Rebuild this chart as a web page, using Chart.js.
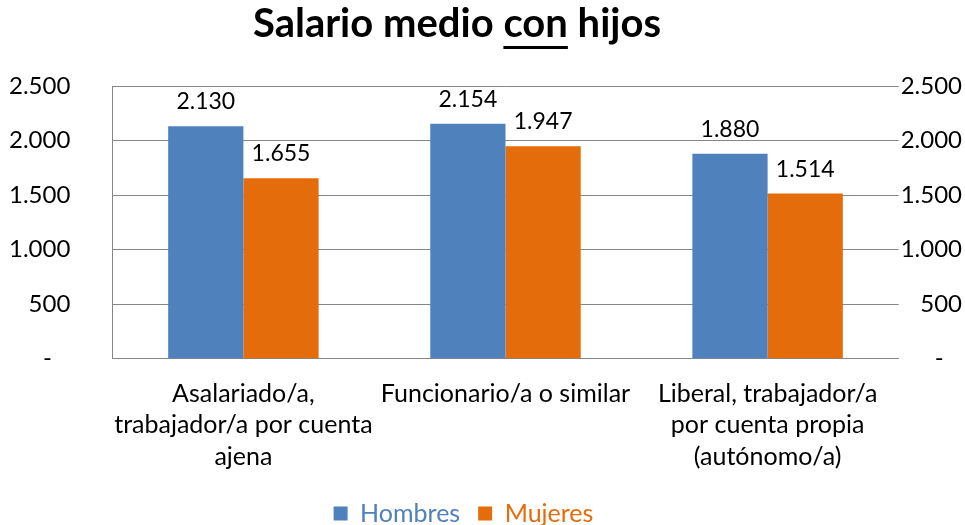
<!DOCTYPE html>
<html>
<head>
<meta charset="utf-8">
<script src="https://cdn.jsdelivr.net/npm/chart.js@4"></script>
<style>
  html, body { margin: 0; padding: 0; background: #fff; }
  #wrap { width: 965px; height: 525px; }
</style>
</head>
<body>
<div id="wrap"><canvas id="myChart"></canvas></div>
<script>
const categories = [
  ["Asalariado/a,", "trabajador/a por cuenta", "ajena"],
  ["Funcionario/a o similar"],
  ["Liberal, trabajador/a", "por cuenta propia", "(autónomo/a)"],
];
const hombres = [2130, 2154, 1880];
const mujeres = [1655, 1947, 1514];
const yTicks = [0, 500, 1000, 1500, 2000, 2500];

const FONT = "Lato";

function formatNumber(v) {
  if (v === 0) return "-   ";
  return String(v).replace(/\B(?=(\d{3})+(?!\d))/g, ".");
}

// title with underlined "con"
const titlePlugin = {
  id: "titleDraw",
  afterDraw(chart) {
    const ctx = chart.ctx;
    const parts = ["Salario medio ", "con", " hijos"];
    ctx.save();
    ctx.font = "bold 40px " + FONT;
    ctx.fillStyle = "#000";
    ctx.textBaseline = "alphabetic";
    const widths = parts.map((p) => ctx.measureText(p).width);
    const total = widths.reduce((a, b) => a + b, 0);
    let x = 457 - total / 2;
    const y = 37;
    parts.forEach((p, i) => {
      ctx.fillText(p, x, y);
      if (p === "con") {
        ctx.fillRect(x, y + 9, widths[i], 3);
      }
      x += widths[i];
    });
    ctx.restore();
  },
};

// value labels above the bars
const valueLabels = {
  id: "valueLabels",
  afterDatasetsDraw(chart) {
    const ctx = chart.ctx;
    ctx.save();
    ctx.font = "23px " + FONT;
    ctx.fillStyle = "#000";
    ctx.textAlign = "center";
    ctx.textBaseline = "alphabetic";
    chart.data.datasets.forEach((ds, i) => {
      chart.getDatasetMeta(i).data.forEach((bar, j) => {
        ctx.fillText(formatNumber(ds.data[j]), bar.x, bar.y - 17);
      });
    });
    ctx.restore();
  },
};

// nudge legend left, like the original
const legendShift = {
  id: "legendShift",
  afterLayout(chart) {
    const lg = chart.legend;
    lg.left -= 22;
    lg.right -= 22;
    lg.top -= 1;
    lg.bottom -= 1;
  },
};

const ctx = document.getElementById("myChart");

new Chart(ctx, {
  type: "bar",
  data: {
    labels: categories,
    datasets: [
      {
        label: "Hombres",
        data: hombres,
        backgroundColor: "#4f81bd",
        yAxisID: "y",
      },
      {
        label: "Mujeres",
        data: mujeres,
        backgroundColor: "#e46c0a",
        yAxisID: "y",
      },
    ],
  },
  options: {
    responsive: true,
    maintainAspectRatio: false,
    animation: false,
    events: [],
    layout: {
      autoPadding: false,
      padding: { top: 86, left: 9, right: 3, bottom: -12 },
    },
    datasets: {
      bar: { categoryPercentage: 0.574, barPercentage: 1 },
    },
    scales: {
      x: {
        afterFit(axis) {
          // long category labels should not squeeze the plot area
          axis.paddingLeft = 0;
          axis.paddingRight = 0;
        },
        grid: { display: false },
        border: { display: true, color: "#868686", width: 1 },
        ticks: {
          color: "#000",
          font: { family: FONT, size: 25, lineHeight: 1.27 },
          padding: 11,
          maxRotation: 0,
          autoSkip: false,
        },
      },
      y: {
        position: "left",
        min: 0,
        max: 2500,
        afterBuildTicks(axis) {
          axis.ticks = yTicks.map((v) => ({ value: v }));
        },
        afterFit(axis) {
          axis.width -= axis.options.ticks.padding;
        },
        grid: { color: "#868686", drawTicks: false },
        border: { display: true, color: "#868686" },
        ticks: {
          color: "#000",
          font: { family: FONT, size: 24 },
          padding: 42,
          callback: (v) => formatNumber(v),
        },
      },
      y1: {
        position: "right",
        min: 0,
        max: 2500,
        afterBuildTicks(axis) {
          axis.ticks = yTicks.map((v) => ({ value: v }));
        },
        grid: { display: false, drawTicks: false },
        border: { display: false },
        ticks: {
          color: "#000",
          font: { family: FONT, size: 24 },
          padding: 1,
          crossAlign: "far",
          callback: (v) => formatNumber(v),
        },
      },
    },
    plugins: {
      title: { display: false },
      tooltip: { enabled: false },
      legend: {
        position: "bottom",
        labels: {
          font: { family: FONT, size: 25 },
          boxWidth: 14,
          boxHeight: 14,
          padding: 18,
          generateLabels(chart) {
            return chart.data.datasets.map((ds, i) => ({
              text: ds.label,
              fillStyle: ds.backgroundColor,
              strokeStyle: ds.backgroundColor,
              lineWidth: 0,
              fontColor: ds.backgroundColor,
              datasetIndex: i,
            }));
          },
        },
      },
    },
  },
  plugins: [titlePlugin, valueLabels, legendShift],
});
</script>
</body>
</html>
